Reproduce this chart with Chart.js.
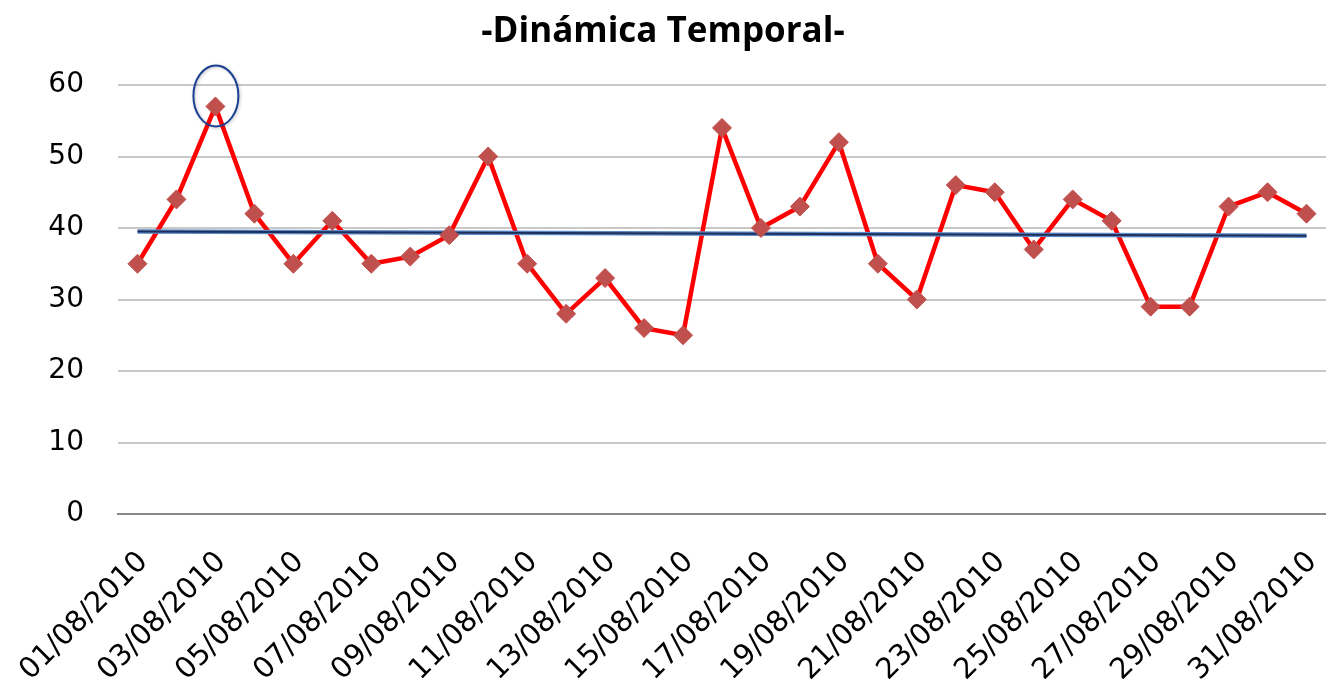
<!DOCTYPE html>
<html>
<head>
<meta charset="utf-8">
<script src="https://cdn.jsdelivr.net/npm/chart.js@4"></script>
<style>
  body { margin: 0; background: #fff; }
  #wrap { width: 1326px; height: 682px; }
</style>
</head>
<body>
<div id="wrap"><canvas id="chart"></canvas></div>
<script>
var fechas = ['01/08/2010','02/08/2010','03/08/2010','04/08/2010','05/08/2010','06/08/2010','07/08/2010','08/08/2010',
  '09/08/2010','10/08/2010','11/08/2010','12/08/2010','13/08/2010','14/08/2010','15/08/2010','16/08/2010',
  '17/08/2010','18/08/2010','19/08/2010','20/08/2010','21/08/2010','22/08/2010','23/08/2010','24/08/2010',
  '25/08/2010','26/08/2010','27/08/2010','28/08/2010','29/08/2010','30/08/2010','31/08/2010'];
var valores = [35,44,57,42,35,41,35,36,39,50,35,28,33,26,25,54,40,43,52,35,30,46,45,37,44,41,29,29,43,45,42];
var tendenciaInicio = 39.5;
var tendenciaFin = 38.9;
var yTicks = [0,10,20,30,40,50,60];
var puntoMarcado = 2; // el maximo con el circulo

var tendencia = fechas.map((f,i) => i == 0 ? tendenciaInicio : (i == fechas.length-1 ? tendenciaFin : null));

// dibuja el ovalo azul alrededor del punto marcado
const ovalo = {
    id: 'ovalo',
    afterDatasetsDraw(chart) {
        const meta = chart.getDatasetMeta(3);
        const p = meta.data[puntoMarcado];
        const ctx = chart.ctx;
        ctx.save();
        ctx.shadowColor = 'rgba(0,0,0,0.25)';
        ctx.shadowBlur = 3;
        ctx.shadowOffsetX = 1;
        ctx.shadowOffsetY = 1;
        ctx.strokeStyle = '#1c3f94';
        ctx.lineWidth = 2;
        ctx.beginPath();
        ctx.ellipse(p.x + 0.5, p.y - 10.5, 22.5, 30.5, 0, 0, Math.PI*2);
        ctx.stroke();
        ctx.restore();
    }
};

const config = {
    type: 'line',
    data: {
        labels: fechas,
        datasets: [
            {
                label: 'serie',
                data: valores,
                borderColor: '#FF0000',
                borderWidth: 4.5,
                pointRadius: 0,
                tension: 0,
                order: 4,
            },
            {
                label: 'tendencia base',
                data: tendencia,
                spanGaps: true,
                borderColor: '#5b8ac8',
                borderWidth: 4.5,
                pointRadius: 0,
                order: 3,
            },
            {
                label: 'tendencia',
                data: tendencia,
                spanGaps: true,
                borderColor: '#1f2f5a',
                borderWidth: 2,
                pointRadius: 0,
                order: 2,
            },
            {
                label: 'puntos',
                data: valores,
                showLine: false,
                pointStyle: 'rectRot',
                pointRadius: 9.5,
                pointBackgroundColor: '#C0504D',
                pointBorderColor: '#C0504D',
                pointBorderWidth: 1,
                order: 1,
            },
        ]
    },
    options: {
        responsive: true,
        maintainAspectRatio: false,
        animation: false,
        layout: { padding: 0, autoPadding: false },
        plugins: {
            legend: { display: false },
            tooltip: { enabled: false },
            title: {
                display: true,
                text: '-Dinámica Temporal-',
                color: '#000',
                font: { family: 'Open Sans', size: 35, weight: 'bold' },
                padding: { top: 11, bottom: 32 },
            },
        },
        scales: {
            x: {
                offset: true,
                grid: { display: true, drawOnChartArea: false, drawTicks: true, tickLength: 37, color: 'rgba(0,0,0,0)' },
                border: { display: true, color: '#8a8a8a', width: 2 },
                ticks: {
                    autoSkip: false,
                    maxRotation: 45,
                    minRotation: 45,
                    padding: -6,
                    labelOffset: 6,
                    color: '#000',
                    font: { family: 'DejaVu Sans', size: 29 },
                    callback: function(v, i) { return i % 2 == 0 ? fechas[i] : ''; },
                },
                afterFit: function(s) { s.height = 168; },
            },
            y: {
                min: 0,
                max: 60,
                afterBuildTicks: function(s) { s.ticks = yTicks.map(v => ({ value: v })); },
                grid: {
                    drawTicks: false,
                    lineWidth: 2,
                    color: function(c) { return c.tick && c.tick.value == 0 ? '#8a8a8a' : '#c8c8c8'; },
                },
                border: { display: false },
                ticks: {
                    padding: 34,
                    color: '#000',
                    font: { family: 'DejaVu Sans', size: 28 },
                },
                afterFit: function(s) { s.width = 118; },
            },
        }
    },
    plugins: [ovalo],
};
const myChart = new Chart(document.getElementById('chart'), config);
</script>
</body>
</html>
